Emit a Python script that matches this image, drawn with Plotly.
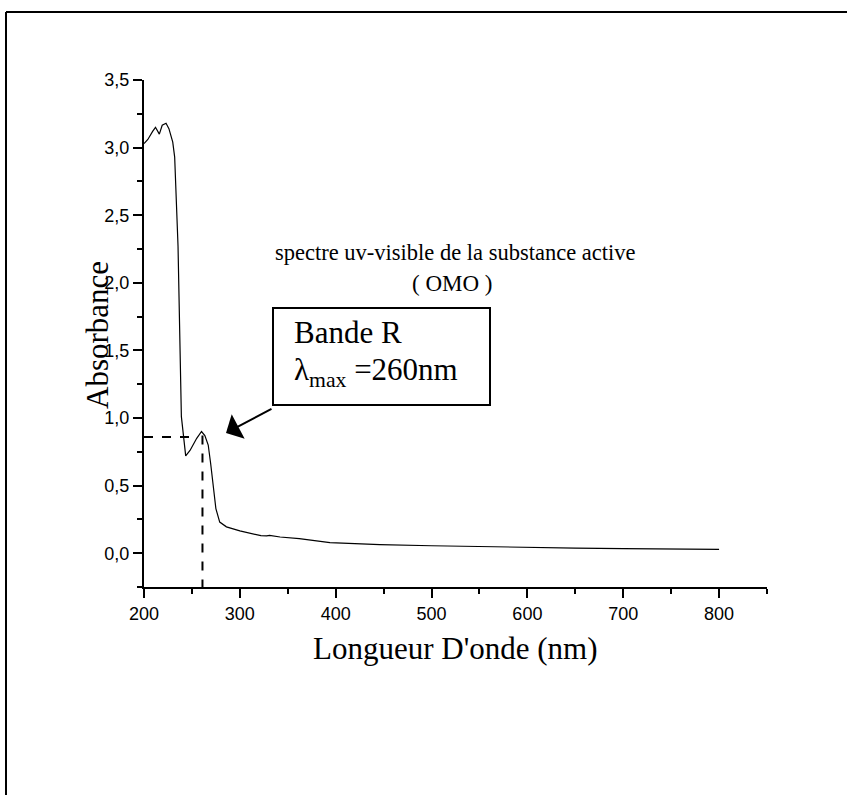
import plotly.graph_objects as go

# Spectrum data
wavelength = [200, 204, 209, 212, 216, 219, 223, 226, 230, 232, 235.5, 238, 239,
              243.5, 248, 255, 260, 263.5, 267, 269.6, 272, 275, 279, 286, 300,
              314, 322, 328, 331, 342, 362, 394, 446, 500, 550, 600, 650, 700,
              750, 800]
absorbance = [3.03, 3.06, 3.12, 3.15, 3.10, 3.165, 3.18, 3.14, 3.04, 2.93, 2.27,
              1.28, 1.01, 0.72, 0.76, 0.85, 0.90, 0.87, 0.80, 0.66, 0.49, 0.33,
              0.23, 0.195, 0.165, 0.14, 0.13, 0.128, 0.132, 0.12, 0.108, 0.078,
              0.064, 0.055, 0.048, 0.042, 0.038, 0.034, 0.031, 0.028]

# Dashed guide lines marking lambda max
guide_h_x = [200, 256]
guide_h_y = [0.86, 0.86]
guide_v_x = [261, 261]
guide_v_y = [0.87, -0.25]

serif = "Liberation Serif, Times New Roman, serif"
sans = "Liberation Sans, Arial, sans-serif"

fig = go.Figure()
fig.add_trace(go.Scatter(x=wavelength, y=absorbance, mode="lines",
                         line=dict(color="black", width=1.2), showlegend=False))
fig.add_trace(go.Scatter(x=guide_h_x, y=guide_h_y, mode="lines",
                         line=dict(color="black", width=2, dash="dash"), showlegend=False))
fig.add_trace(go.Scatter(x=guide_v_x, y=guide_v_y, mode="lines",
                         line=dict(color="black", width=2, dash="dash"), showlegend=False))

fig.update_layout(
    width=847, height=795, autosize=False,
    margin=dict(l=144, r=80, t=80, b=208),
    paper_bgcolor="white", plot_bgcolor="white",
    separators=", ",
    font=dict(family=sans, color="black", size=18),
    showlegend=False,
)

fig.update_xaxes(range=[200, 850], tick0=200, dtick=100, showgrid=False, zeroline=False,
                 showline=True, linecolor="black", linewidth=2,
                 ticks="outside", ticklen=9, tickwidth=2, tickcolor="black",
                 minor=dict(ticks="outside", ticklen=5, tickwidth=2, dtick=50,
                            tick0=200, tickcolor="black", showgrid=False),
                 tickfont=dict(family=sans, size=18, color="black"))
fig.update_yaxes(range=[-0.25, 3.5], tick0=0, dtick=0.5, tickformat=".1f",
                 showgrid=False, zeroline=False,
                 showline=True, linecolor="black", linewidth=2,
                 ticks="outside", ticklen=9, tickwidth=2, tickcolor="black",
                 minor=dict(ticks="outside", ticklen=5, tickwidth=2, dtick=0.25,
                            tick0=0, tickcolor="black", showgrid=False),
                 tickfont=dict(family=sans, size=18, color="black"))

def px2x(px):
    return (px - 144) / 623.0

def py2y(py):
    return (587 - py) / 507.0

shapes = [
    # outer frame lines
    dict(type="line", xref="paper", yref="paper", x0=px2x(6), y0=py2y(12),
         x1=px2x(850), y1=py2y(12), line=dict(color="black", width=2)),
    dict(type="line", xref="paper", yref="paper", x0=px2x(6), y0=py2y(12),
         x1=px2x(6), y1=py2y(800), line=dict(color="black", width=2)),
    # annotation box
    dict(type="rect", xref="paper", yref="paper", x0=px2x(273), y0=py2y(405),
         x1=px2x(490), y1=py2y(308), line=dict(color="black", width=2),
         fillcolor="white"),
]
fig.update_layout(shapes=shapes)

annotations = [
    dict(text="Absorbance", xref="paper", yref="paper", x=px2x(97), y=py2y(335),
         textangle=-90, showarrow=False, xanchor="center", yanchor="middle",
         font=dict(family=serif, size=31, color="black")),
    dict(text="Longueur D'onde (nm)", xref="paper", yref="paper", x=0.5, y=py2y(648),
         showarrow=False, xanchor="center", yanchor="middle",
         font=dict(family=serif, size=31, color="black")),
    dict(text="spectre uv-visible de la substance active", xref="paper", yref="paper",
         x=px2x(455), y=py2y(253), showarrow=False, xanchor="center", yanchor="middle",
         font=dict(family=serif, size=22.5, color="black")),
    dict(text="( OMO )", xref="paper", yref="paper",
         x=px2x(452), y=py2y(283), showarrow=False, xanchor="center", yanchor="middle",
         font=dict(family=serif, size=23, color="black")),
    dict(text="Bande R", xref="paper", yref="paper",
         x=px2x(292), y=py2y(332), showarrow=False, xanchor="left", yanchor="middle",
         font=dict(family=serif, size=31, color="black")),
    dict(text="λ<sub>max</sub> =260nm", xref="paper", yref="paper",
         x=px2x(292), y=py2y(372), showarrow=False, xanchor="left", yanchor="middle",
         font=dict(family=serif, size=31, color="black")),
    dict(text="", xref="paper", yref="paper", x=px2x(226), y=py2y(433),
         ax=47, ay=-25, showarrow=True, arrowhead=1, arrowsize=2.3, arrowwidth=2,
         arrowcolor="black"),
]
fig.update_layout(annotations=annotations)

fig.write_html("out.html")
